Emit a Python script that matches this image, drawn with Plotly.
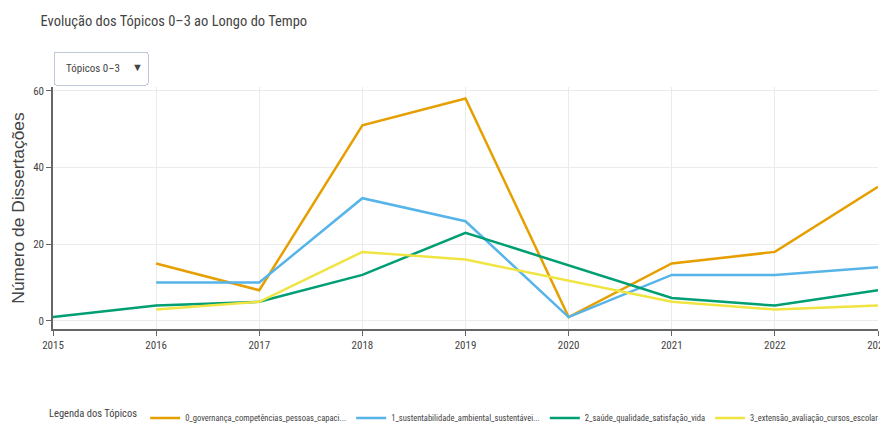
import plotly.graph_objects as go

years = [2015, 2016, 2017, 2018, 2019, 2020, 2021, 2022, 2023]

names = [
    "0_governança_competências_pessoas_capaci...",
    "1_sustentabilidade_ambiental_sustentávei...",
    "2_saúde_qualidade_satisfação_vida",
    "3_extensão_avaliação_cursos_escolar",
]
colors = ["#E69F00", "#56B4E9", "#009E73", "#F0E442"]

x_t0 = [2016, 2017, 2018, 2019, 2020, 2021, 2022, 2023]
y_t0 = [15, 8, 51, 58, 1, 15, 18, 35]
x_t1 = [2016, 2017, 2018, 2019, 2020, 2021, 2022, 2023]
y_t1 = [10, 10, 32, 26, 1, 12, 12, 14]
x_t2 = [2015, 2016, 2017, 2018, 2019, 2021, 2022, 2023]
y_t2 = [1, 4, 5, 12, 23, 6, 4, 8]
x_t3 = [2016, 2017, 2018, 2019, 2021, 2022, 2023]
y_t3 = [3, 5, 18, 16, 5, 3, 4]

xs = [x_t0, x_t1, x_t2, x_t3]
ys = [y_t0, y_t1, y_t2, y_t3]

NARROW = "Roboto Condensed, Liberation Sans, sans-serif"

fig = go.Figure()
for n, c, x, y in zip(names, colors, xs, ys):
    fig.add_trace(go.Scatter(x=x, y=y, name=n, mode="lines",
                             line=dict(color=c, width=2.5)))

# the page body has an 8px margin, so the figure is sized to fill the rest of the window
fig.update_layout(
    width=880, height=421,
    paper_bgcolor="white", plot_bgcolor="white",
    font=dict(family=NARROW, size=11, color="#444"),
    title=dict(text="Evolução dos Tópicos 0–3 ao Longo do Tempo",
               x=0.037, xanchor="left", y=0.969, yanchor="middle",
               font=dict(family=NARROW, size=14.5, color="#444")),
    margin=dict(l=45, r=10, t=79, b=100, autoexpand=False),
    xaxis=dict(range=[2015, 2023], tickmode="array", tickvals=years,
               showline=True, linecolor="#666", linewidth=1.5,
               ticks="outside", tickcolor="#666", ticklen=5,
               ticklabeloverflow="allow",
               showgrid=True, gridcolor="#ebebeb", zeroline=False),
    yaxis=dict(range=[-2.1, 61], tickvals=[0, 20, 40, 60],
               showline=True, linecolor="#666", linewidth=1.5,
               ticks="outside", tickcolor="#666", ticklen=5,
               showgrid=True, gridcolor="#ebebeb", zeroline=False,
               title=dict(text="Número de Dissertações", standoff=12,
                          font=dict(family="Liberation Sans, Arial, sans-serif", size=17.4, color="#444"))),
    legend=dict(orientation="h", x=0.5, xanchor="center", y=-0.368, yanchor="middle",
                title=dict(text="Legenda dos Tópicos", font=dict(size=10.5)),
                font=dict(size=8.5), itemwidth=30),
    updatemenus=[dict(
        type="dropdown", direction="down", x=0.0, xanchor="left", y=1.148, yanchor="top",
        active=0, showactive=True, bgcolor="white", bordercolor="#BEC8D9",
        font=dict(size=11, family=NARROW, color="#444"),
        pad=dict(t=0, b=0, l=0, r=0),
        buttons=[dict(label="Tópicos 0–3", method="update",
                      args=[{"visible": [True, True, True, True]}])],
    )],
)

fig.write_html("out.html")
